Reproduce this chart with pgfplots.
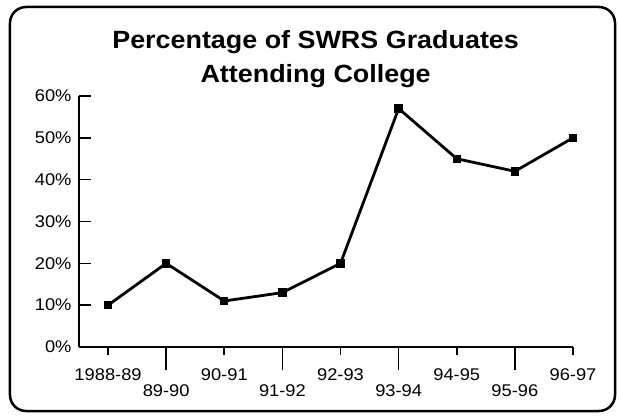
\documentclass[border=0pt]{standalone}
\usepackage{fontspec}
\setmainfont{Liberation Sans}[FakeStretch=1.08]
\usepackage{pgfplots}
\pgfplotsset{compat=1.18}

\begin{document}
\begin{tikzpicture}
\begin{axis}[
  at={(0,0)}, anchor=south west,
  scale only axis,
  width=494bp, height=251bp,
  xmin=-0.5, xmax=8,
  ymin=0, ymax=60,
  axis lines=left,
  axis line style={-, line width=1.6bp},
  every tick/.style={black, line width=1.6bp},
  ytick={0,10,...,60},
  minor ytick={0,10,...,60},
  yticklabels={0\%,10\%,20\%,30\%,40\%,50\%,60\%},
  yticklabel style={xshift=-4bp},
  ytick align=inside,
  xtick align=outside,
  major tick length=8bp,
  minor tick length=12bp,
  xtick={0,2,4,6,8},
  xticklabels={1988-89,90-91,92-93,94-95,96-97},
  xticklabel style={yshift=-10bp},
  extra x ticks={1,3,5,7},
  extra x tick labels={89-90,91-92,93-94,95-96},
  extra x tick style={major tick length=23bp,
    xticklabel style={yshift=-1bp}},
  tick label style={font=\fontsize{17}{20}\selectfont},
  title={Percentage of SWRS Graduates\\Attending College},
  title style={font=\bfseries\fontsize{25}{34}\selectfont, align=center,
    at={(axis description cs:0.479,1)}, anchor=south, yshift=-1bp},
]
\addplot[black, line width=2.8bp, mark=square*, mark size=2.8bp] coordinates {
  (0,10) (1,20) (2,11) (3,13) (4,20) (5,57) (6,45) (7,42) (8,50)
};
\end{axis}
\draw[line width=2.5bp, rounded corners=16bp] (-69bp,-64bp) rectangle (536bp,340bp);
\pgfresetboundingbox
\path[use as bounding box] (-79bp,-69bp) rectangle (540bp,347bp);
\end{tikzpicture}
\end{document}
